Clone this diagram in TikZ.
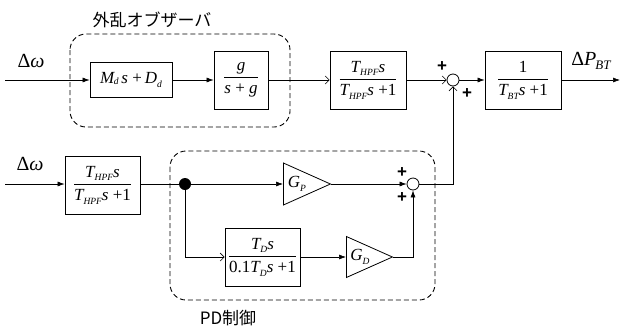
\documentclass[tikz,border=0pt]{standalone}
\usepackage{amsmath}
\usepackage{fontspec}
\setmainfont{Liberation Serif}
\newfontfamily\jpfont{Noto Sans CJK JP}
\newfontfamily\plusfont{Liberation Sans}
\usetikzlibrary{positioning,arrows.meta,shapes.geometric,calc}

% italic subscript set low, as in the drawing
\newcommand\sbs[2][9.5]{\raisebox{-0.45ex}{\fontsize{#1}{#1}\selectfont\itshape #2}}
% block fraction in the text font
\newcommand\blkfrac[2]{$\displaystyle\frac{\hbox{\itshape #1}}{\hbox{\itshape #2}}$}

\begin{document}
\begin{tikzpicture}[
  x=1pt, y=-1pt,
  font=\fontsize{17}{19}\selectfont,
  fwd/.style={-{Latex[length=7pt,width=5pt]}, line width=0.6pt},
  opn/.style={-{Straight Barb[length=4pt,width=8pt]}, line width=0.6pt},
  blk/.style={draw, line width=0.8pt, inner sep=0pt, minimum width=#1},
  blk/.default=76pt,
  gain/.style={draw, line width=0.8pt, isosceles triangle, isosceles triangle stretches,
               shape border rotate=0, inner sep=0pt, minimum width=42pt, minimum height=47pt},
  sumpt/.style={draw, circle, line width=0.8pt, inner sep=0pt, minimum size=12pt},
  grp/.style={draw, dash pattern=on 5pt off 3pt, line width=0.9pt, rounded corners=16pt},
  lbl/.style={font=\jpfont\fontsize{17}{19}\selectfont},
  sgn/.style={font=\plusfont\bfseries\fontsize{17}{17}\selectfont, inner sep=0pt},
  sig/.style={font=\fontsize{20}{22}\selectfont},
]
\useasboundingbox (0,0) rectangle (620,327);

% ---- upper path: disturbance observer ----
\coordinate (in1) at (5,80);
\node[sig] (w1) at (31,61) {Δ\textit{ω}};
\node[blk=82pt, minimum height=35pt] (md) at (131,80)
      {\itshape M\kern-0.5pt\raisebox{-0.15ex}{\fontsize{9.5}{9.5}\selectfont d}\,s \upshape+\,\itshape D\sbs{d}};
\node[blk=54pt, minimum height=58pt] (gf) at (241,80) {\blkfrac{g}{s \upshape+ \itshape g}};
\draw[grp] (70,34) rectangle (290,127);
\node[lbl] (obs) at (152,20) {外乱オブザーバ};

\node[blk, minimum height=58pt] (hpf1) at (368,80) {\blkfrac{T\sbs{HPF}s}{T\sbs{HPF}s \upshape+1}};
\node[sumpt] (sum1) at (453,80) {};
\node[blk, minimum height=58pt] (bt) at (523,80) {\blkfrac{\upshape 1}{T\sbs{BT}s \upshape+1}};
\coordinate (out) at (620,80);
\node[sig] (pbt) at (591,61) {Δ\textit{P}\kern-1pt\sbs[13]{BT}};
\node[sgn] at (442,67) {+};
\node[sgn] at (467,94) {+};

% ---- lower path: PD control ----
\coordinate (in2) at (5,184);
\node[sig] (w2) at (30,164) {Δ\textit{ω}};
\node[blk=75pt, minimum height=58pt] (hpf2) at (102.5,185) {\blkfrac{T\sbs{HPF}s}{T\sbs{HPF}s \upshape+1}};
\node[circle, fill, inner sep=0pt, minimum size=12pt] (dot) at (185,184) {};
\node[gain, anchor=west] (gp) at (283,184) {};
\node at ($(gp.west)+(14,0)$) {\itshape G\sbs{P}};
\node[sumpt] (sum2) at (413,184) {};
\node[sgn] at (402,173) {+};
\node[sgn] at (402,198) {+};
\node[blk=75pt, minimum height=58pt] (td) at (262.5,257) {\blkfrac{T\sbs{D}s}{\upshape 0.1\itshape T\sbs{D}s \upshape+1}};
\node[gain, anchor=west, minimum width=41pt, minimum height=46pt] (gd) at (346,257) {};
\node at ($(gd.west)+(14,0)$) {\itshape G\sbs{D}};
\draw[grp] (170,151) rectangle (435,300);
\node[lbl] (pd) at (228,318) {PD制御};

% ---- connections ----
\draw[fwd] (in1) -- (md);
\draw[fwd] (md) -- (gf);
\draw[opn] (gf) -- (hpf1);
\draw[opn] (hpf1) -- (sum1);
\draw[fwd] (sum1) -- (bt);
\draw[fwd] (bt) -- (out);

\draw[fwd] (in2) -- (hpf2.west |- in2);
\draw[line width=0.6pt] (hpf2.east |- in2) -- (dot);
\draw[fwd] (dot) -- (gp.west);
\draw[fwd] (gp.apex) -- (sum2);
\draw[opn] (dot) |- (td.west);
\draw[fwd] (td) -- (gd.west);
\draw[fwd] (gd.apex) -| (sum2);
\draw[opn] (sum2) -| (sum1);
\end{tikzpicture}
\end{document}
